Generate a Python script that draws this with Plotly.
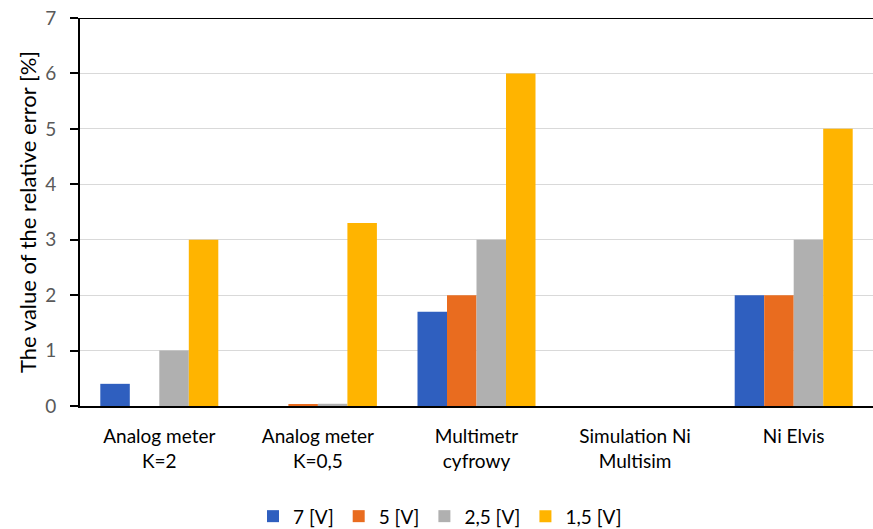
import plotly.graph_objects as go

categories = ["Analog meter<br>K=2", "Analog meter<br>K=0,5", "Multimetr<br>cyfrowy",
              "Simulation Ni<br>Multisim", "Ni Elvis"]
series_names = ["7 [V]", "5 [V]", "2,5 [V]", "1,5 [V]"]
v7 = [0.4, 0.0, 1.7, 0.0, 2.0]
v5 = [0.0, 0.02, 2.0, 0.0, 2.0]
v25 = [1.0, 0.04, 3.0, 0.0, 3.0]
v15 = [3.0, 3.3, 6.0, 0.0, 5.0]
colors = ["#2F5FBF", "#E96C1F", "#B0B0B0", "#FFB400"]
y_ticks = [0, 1, 2, 3, 4, 5, 6, 7]

FONT = "Lato"

fig = go.Figure()
for name, vals, col in zip(series_names, [v7, v5, v25, v15], colors):
    fig.add_trace(go.Bar(x=categories, y=vals, name=name, marker_color=col,
                         marker_line_width=0))

fig.update_layout(
    width=873, height=529,
    margin=dict(l=80, r=0, t=18, b=123, autoexpand=False),
    plot_bgcolor="white", paper_bgcolor="white",
    barmode="group", bargap=0.256, bargroupgap=0,
    font=dict(family=FONT, size=19, color="#000000"),
    legend=dict(orientation="h", xref="container", x=0.504, xanchor="center",
                yref="container", y=0.024, yanchor="middle",
                font=dict(size=19, color="#000000"), itemwidth=30,
                traceorder="normal"),
    xaxis=dict(showline=True, linecolor="black", linewidth=2, ticks="",
               tickfont=dict(size=19, color="black"), showgrid=False,
               ticklabelstandoff=12, automargin=False),
    yaxis=dict(range=[0, 7], tickvals=y_ticks, showline=True, linecolor="black",
               linewidth=2, ticks="outside", ticklen=8, tickwidth=2, tickcolor="black",
               tickfont=dict(size=19, color="#595959"), showgrid=True,
               gridcolor="#D9D9D9", gridwidth=1, zeroline=False,
               ticklabelstandoff=10, automargin=False,
               title=dict(text="The value of the relative error [%]",
                          font=dict(size=22, color="black"), standoff=2)),
    yaxis2=dict(range=[0, 7], tickvals=y_ticks, overlaying="y", side="left",
                showline=False, ticks="inside", ticklen=8, tickwidth=2,
                tickcolor="black", showticklabels=False, showgrid=False,
                zeroline=False),
    shapes=[dict(type="line", xref="paper", yref="y", x0=0, x1=1, y0=7, y1=7,
                 line=dict(color="black", width=2))],
)

fig.write_html("out.html")
